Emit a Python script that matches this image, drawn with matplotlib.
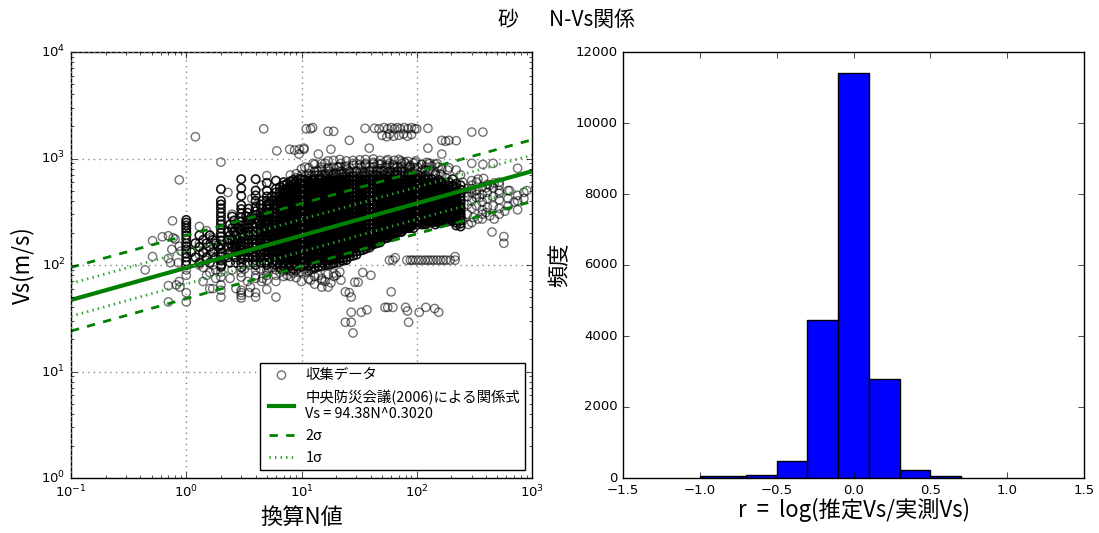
import matplotlib
matplotlib.use('Agg')
import matplotlib.pyplot as plt

plt.style.use('classic')
plt.rcParams['font.family'] = ['DejaVu Sans']
plt.rcParams['mathtext.fontset'] = 'dejavusans'
plt.rcParams['mathtext.default'] = 'regular'
plt.rcParams['figure.facecolor'] = 'white'
plt.rcParams['savefig.facecolor'] = 'white'
CJK = 'Noto Sans CJK JP'

# sparse outliers
out_n = [1.2,4.7,6.1,7.9,8.7,9.6,10.5,11,2.0,0.87,0.76,0.51,0.62,0.7,0.77,0.51,0.44,0.7,0.73,0.85,0.75,0.87,0.9,0.8,
         0.7,0.7,0.82,0.88,0.87,12,12.5,17,19,35.6,43,47,52,56,60,64,68,72,78,84,90,96,100,125,
         50,55,58,63,70,77,83,90,300,375,165,178,190,220,26,125,38.7,18,14,165,10.5,9.5,
         300,375,460,750,750,850,750,750,620,620,620,520,520,700,850,450,570,570,
         58,62,82,88,92,98,104,110,118,125,132,140,150,160,170,180,195,215,65,215,
         40,34,29,31,60,24,26,27,27,33,37,53,56,62,80,83,120,105,143,155,85,24,27,28,
         12,13,14,15,16,17,19,11,12,15,18,22,20,
         14,17,21,25,30,36,42,48,55,62,70,78,88,98,110,122,135,150,165,185,
         13,20,28,35,44,52,66,74,84,94,106,118,130,145,160,
         1.3,1.4,1.5,1.5,1.6,1.7,1.7,1.8,1.9,1.3,1.4,1.6,1.8,1.3,1.5,1.7,1.9,1.4,1.6,1.8,1.3,1.5,1.7,
         2.5,2.5,2.6,2.4,2.7,2.3,2.8,2.5,2.6,3.5,3.5,3.6,3.4,3.7,4.5,4.4,4.6,4.5,5.5,5.5,4.5,3.5,
         250,270,300,330,350,250,280,310,340,370,400,430,470,520,580,400,430,470,520,250,300,340,380,640,900,
         275,275,275,275,300,300,300,300,300,330,330,330,330,370,370,370,370,370,410,410,410,410,460,460,460,520,520,520]
out_vs = [1600,1900,1180,1220,1200,1220,1220,1900,925,630,260,169,184,188,180,120,90,115,105,105,140,150,135,175,
          45,64,65,62,70,1900,1950,1800,1800,1920,1920,1900,1950,1900,1950,1900,1950,1900,1950,1900,1950,1900,1900,1920,
          1650,1600,1700,1620,1650,1700,1620,1680,1770,1770,1480,1450,1480,1470,1480,1250,1250,1220,1100,1100,1250,1100,
          900,880,900,810,450,480,400,330,500,420,360,560,470,390,420,204,185,160,
          111,111,111,111,111,111,111,111,111,111,111,111,111,111,111,111,111,111,117,120,
          80,85,69,69,56,56,55,50,36,36,38,40,40,40,40,37,40,36,39,36,29,29,29,23,
          72,66,80,62,70,62,78,85,90,75,68,72,80,
          760,800,830,780,900,850,920,800,950,880,980,930,860,950,880,920,850,900,800,780,
          700,720,690,730,700,760,730,770,720,750,700,780,760,700,720,
          160,130,210,110,85,180,120,75,150,100,70,60,90,230,140,100,130,95,190,170,125,80,60,
          300,210,120,75,60,480,170,90,140,250,100,62,70,420,560,190,75,110,130,95,70,55,
          500,480,520,460,430,260,240,280,270,300,310,290,270,300,320,530,560,590,600,600,620,640,650,500,500,
          520,440,370,300,560,480,400,340,250,600,500,430,360,540,460,390,330,270,570,480,420,350,530,440,360,500,410,340]

# discrete columns of blow-count values and the velocities seen in each
col_n = [1.0,2.0,3.0,4.0,5.0,6.0,6.5,7.0,7.5,8.0,8.5,9.0,9.5,10,10.7,11.5,12.3,13,14,15,16,17,18,19,20,21.5,23,
         24.5,26,28,30,32,34,36,39,42,45,48,52,56,60,64,68,73,78,84,90,96,103,110,118,126,135,145,155,165,178,190,205,220,240]
col_vs = [
 [265,250,235,220,205,190,175,160,150,140,128,118,108,100,90,80,55,45],
 [516,400,370,340,310,285,260,240,220,200,185,170,155,142,130,120,110,100,96,86,77,65,58,50],
 [640,525,445,365,335,305,280,255,235,215,198,180,165,150,138,125,115,105,95,85,77,58,52,49,55],
 [640,500,450,400,350,320,295,270,245,225,205,190,172,158,145,132,120,110,100,90,80,75,55,50],
 [690,590,500,440,400,365,335,305,280,255,235,215,195,178,162,148,135,122,110,100,90,80,72,59],
 [620,520,480,440,400,365,335,305,280,255,235,215,195,178,162,148,135,122,110,100,90,80,70,50],
 [540,490,445,405,370,335,310,280,258,235,215,197,180,165,150,137,125,113,103,95,85],
 [600,560,510,465,425,385,350,320,295,270,245,225,205,187,170,156,142,130,118,108,98,88,78],
 [580,530,480,440,400,365,335,305,280,255,235,215,195,178,162,148,135,122,110,100,90,80],
 [700,610,555,505,460,420,385,350,320,292,268,245,223,203,186,170,155,142,130,118,108,98,88,78],
 [630,575,525,480,435,398,365,332,305,278,253,232,212,193,176,161,147,134,122,112,102,92,84],
 [720,660,600,545,500,455,415,380,347,318,290,265,243,222,202,185,169,154,141,129,118,107,98,88,76],
 [640,585,535,488,445,405,370,338,310,282,258,235,215,196,180,164,150,137,125,114,104,94,85],
 [800,700,640,590,540,490,445,405,372,340,310,283,260,238,216,198,181,165,151,138,126,115,105,96,86,70],
 [680,620,565,515,470,430,395,360,328,300,274,250,229,209,191,174,159,146,133,122,111,101,92],
 [820,720,650,600,545,500,455,415,380,348,318,290,265,242,222,203,185,169,155,141,129,118,107,98,88,74],
 [690,630,575,525,478,438,400,365,333,305,278,255,233,213,195,178,162,149,136,124,113,103,94],
 [880,760,690,630,575,525,480,440,400,365,335,305,280,255,233,213,195,178,163,149,136,124,113,103,95,78],
 [700,640,585,535,490,445,408,372,340,312,285,260,238,217,198,181,166,152,139,127,116,106,97],
 [900,790,700,640,590,540,490,450,410,375,343,314,287,262,240,219,200,183,167,153,140,128,117,107,97,72],
 [720,650,600,550,500,458,418,382,350,320,292,267,244,223,204,186,170,155,142,130,119,109,100],
 [950,820,710,650,600,550,500,460,420,385,352,322,295,270,246,225,206,188,172,157,144,132,121,110,100,82],
 [730,665,610,555,510,465,425,390,355,325,298,272,249,228,208,190,174,159,145,133,122,112,102],
 [960,830,720,660,605,555,505,465,425,390,355,325,298,272,250,228,208,191,175,160,146,134,123,112,104,84],
 [740,670,615,560,515,470,430,395,360,330,302,276,253,231,211,193,177,162,148,135,124,114,105],
 [980,840,725,665,610,560,510,468,428,392,358,328,300,275,252,230,211,193,177,162,148,136,125,115,107,86],
 [745,675,620,565,518,472,432,397,362,332,304,278,255,233,213,195,179,164,150,137,126,116,110],
 [950,850,730,670,612,562,512,470,430,395,360,330,303,277,254,232,213,195,179,164,150,138,127,118,111],
 [750,680,622,568,520,475,435,398,365,335,306,280,257,235,215,197,181,166,152,140,129,120],
 [960,860,735,672,615,565,515,472,432,396,362,332,305,279,256,234,215,197,181,166,153,142,132,122],
 [755,685,625,570,522,478,438,400,368,338,308,283,259,237,217,199,183,168,155,144,134,125],
 [970,870,740,675,618,568,518,475,435,398,365,335,307,281,258,236,217,199,183,169,156,146,136],
 [760,690,628,573,525,480,440,403,370,340,311,285,261,239,219,201,185,171,158,148,138],
 [980,880,745,678,620,570,520,478,438,400,367,337,309,283,260,238,219,201,186,173,160,150,142],
 [765,695,630,575,528,483,443,406,372,342,314,288,264,242,222,204,188,175,163,153,146],
 [990,890,750,680,622,572,522,480,440,403,370,340,312,286,262,240,221,204,189,177,166,156],
 [770,700,632,578,530,486,446,408,375,345,316,290,267,245,225,207,192,180,170,160],
 [960,880,745,682,625,575,525,483,443,406,373,343,315,289,265,243,224,208,194,183,172,163],
 [770,700,634,580,532,488,448,410,378,348,320,294,270,248,228,212,198,187,176],
 [980,860,745,683,628,578,528,486,446,410,376,346,318,292,268,247,229,214,201,190,180],
 [770,700,635,582,534,490,450,413,380,350,322,296,272,251,232,217,204,194,185],
 [960,850,745,685,630,580,530,488,448,412,379,349,321,295,272,251,233,219,207,197],
 [760,695,636,584,536,492,452,415,382,352,324,298,275,254,236,222,210,200],
 [950,840,740,680,630,580,530,490,450,414,381,351,323,298,275,255,238,225,214,205],
 [750,690,635,584,538,494,454,417,384,354,326,300,278,258,241,228,218],
 [940,830,735,675,625,578,530,490,452,416,384,354,326,302,280,260,243,231,222],
 [740,680,630,582,536,494,456,420,388,358,330,306,284,264,248,235],
 [920,820,720,665,615,570,526,488,452,418,386,357,330,306,284,265,250,240],
 [700,650,600,556,515,478,443,410,380,352,327,304,284,267,254,244],
 [880,780,680,625,580,538,500,464,430,398,370,344,320,298,280,264,252],
 [690,635,585,543,504,468,435,404,376,350,326,304,285,268,256,246],
 [900,760,640,590,548,510,474,440,410,382,356,332,310,290,272,258],
 [640,595,550,512,476,443,412,384,358,334,312,293,276,262,250],
 [880,720,600,558,520,484,450,420,392,366,342,320,300,282,268,255,240],
 [630,580,538,500,466,434,404,378,353,330,309,290,274,262,250],
 [700,600,555,515,480,447,417,390,364,340,318,298,282,268,256],
 [660,575,530,494,460,430,402,375,350,328,308,290,276,262],
 [820,600,545,505,470,438,410,384,358,335,315,298,283,270,258],
 [640,560,520,482,450,420,392,366,342,322,304,290,275,260],
 [780,580,530,490,456,426,398,372,348,328,310,295,280,265,250,235],
 [700,560,510,470,435,405,378,352,330,310,295,280,262,245,230],
]

# horizontal runs inside the dark band: each velocity with the N values at which rings sit
row_vs = [92,105,118,132,148,160,172,190,205,222,240,262,285,310,338,370,402,440,480,525,575,630,690,760,830,900]
row_n = [
 [3.2,4.4,5.2,6.6,7.2,8.4,9.1,12,13],
 [1.3,1.6,2.4,2.7,3.4,3.8,4.4,4.8,5.2,5.6,6.1,6.6,7.2,7.8,8.4,9.1,9.9,10.7,11.6,12.6,13.6,14.8,16],
 [1.2,1.5,1.8,2.3,2.7,3.2,3.5,3.8,4.4,4.8,5.2,5.6,6.1,6.6,7.2,7.8,8.4,9.1,9.9,10.7,11.6,12.6,13.6,14.8,16,17.4,18.8],
 [1.1,1.4,1.7,2.4,2.7,2.9,3.2,3.5,3.8,4.4,4.8,5.2,5.6,6.1,6.6,7.2,7.8,8.4,9.1,9.9,10.7,11.6,12.6,13.6,14.8,16,17.4,18.8,20.4,22,24,26],
 [1.3,1.6,1.9,2.3,2.5,2.7,3.2,3.5,3.8,4.4,4.8,5.2,5.6,6.1,6.6,7.2,7.8,8.4,9.1,9.9,10.7,11.6,12.6,13.6,14.8,16,17.4,18.8,20.4,22,24,26,28,30,33],
 [1.2,1.5,1.8,2.4,2.6,2.8,3.2,3.5,3.8,4.4,4.8,5.2,5.6,6.1,6.6,7.2,7.8,8.4,9.1,9.9,10.7,11.6,12.6,13.6,14.8,16,17.4,18.8,20.4,22,24,26,28,30,33,36,39,42],
 [1.4,1.7,2.3,2.5,2.7,3.2,3.4,3.7,4.4,4.8,5.2,5.6,6.1,6.6,7.2,7.8,8.4,9.1,9.9,10.7,11.6,12.6,13.6,14.8,16,17.4,18.8,20.4,22,24,26,28,30,33,36,39,42,46],
 [1.3,1.6,2.4,2.7,3.2,3.5,3.8,4.4,4.8,5.2,5.6,6.1,6.6,7.2,7.8,8.4,9.1,9.9,10.7,11.6,12.6,13.6,14.8,16,17.4,18.8,20.4,22,24,26,28,30,33,36,39,42,46,50,54,58],
 [2.3,2.6,3.3,3.6,4.4,4.8,5.2,5.6,6.1,6.6,7.2,7.8,8.4,9.1,9.9,10.7,11.6,12.6,13.6,14.8,16,17.4,18.8,20.4,22,24,26,28,30,33,36,39,42,46,50,54,58,63,68,74],
 [2.5,2.8,3.2,3.5,4.4,4.8,5.2,5.6,6.1,6.6,7.2,7.8,8.4,9.1,9.9,10.7,11.6,12.6,13.6,14.8,16,17.4,18.8,20.4,22,24,26,28,30,33,36,39,42,46,50,54,58,63,68,74,80,87,94],
 [2.4,2.7,3.3,3.7,4.4,4.8,5.2,5.6,6.1,6.6,7.2,7.8,8.4,9.1,9.9,10.7,11.6,12.6,13.6,14.8,16,17.4,18.8,20.4,22,24,26,28,30,33,36,39,42,46,50,54,58,63,68,74,80,87,94,102,111,120],
 [2.6,3.4,3.6,4.3,4.8,5.2,5.6,6.1,6.6,7.2,7.8,8.4,9.1,9.9,10.7,11.6,12.6,13.6,14.8,16,17.4,18.8,20.4,22,24,26,28,30,33,36,39,42,46,50,54,58,63,68,74,80,87,94,102,111,120,130,141,153,166],
 [2.5,3.3,3.7,4.4,4.7,5.3,5.7,6.1,6.6,7.2,7.8,8.4,9.1,9.9,10.7,11.6,12.6,13.6,14.8,16,17.4,18.8,20.4,22,24,26,28,30,33,36,39,42,46,50,54,58,63,68,74,80,87,94,102,111,120,130,141,153,166,180,195,211],
 [3.4,4.4,4.8,5.2,5.7,6.1,6.6,7.2,7.8,8.4,9.1,9.9,10.7,11.6,12.6,13.6,14.8,16,17.4,18.8,20.4,22,24,26,28,30,33,36,39,42,46,50,54,58,63,68,74,80,87,94,102,111,120,130,141,153,166,180,195,211,229],
 [3.5,4.5,5.3,5.7,6.1,6.6,7.2,7.8,8.4,9.1,9.9,10.7,11.6,12.6,13.6,14.8,16,17.4,18.8,20.4,22,24,26,28,30,33,36,39,42,46,50,54,58,63,68,74,80,87,94,102,111,120,130,141,153,166,180,195,211,229],
 [4.4,5.3,6.1,6.6,7.2,7.8,8.4,9.1,9.9,10.7,11.6,12.6,13.6,14.8,16,17.4,18.8,20.4,22,24,26,28,30,33,36,39,42,46,50,54,58,63,68,74,80,87,94,102,111,120,130,141,153,166,180,195,211,229],
 [4.6,5.5,6.6,7.2,7.8,8.4,9.1,9.9,10.7,11.6,12.6,13.6,14.8,16,17.4,18.8,20.4,22,24,26,28,30,33,36,39,42,46,50,54,58,63,68,74,80,87,94,102,111,120,130,141,153,166,180,195,211],
 [5.5,7.2,7.8,8.4,9.1,9.9,10.7,11.6,12.6,13.6,14.8,16,17.4,18.8,20.4,22,24,26,28,30,33,36,39,42,46,50,54,58,63,68,74,80,87,94,102,111,120,130,141,153,166,180,195,211],
 [7.2,8.4,9.1,9.9,10.7,11.6,12.6,13.6,14.8,16,17.4,18.8,20.4,22,24,26,28,30,33,36,39,42,46,50,54,58,63,68,74,80,87,94,102,111,120,130,141,153,166,180,195],
 [9.1,9.9,11.6,12.6,13.6,14.8,16,17.4,18.8,20.4,22,24,26,28,30,33,36,39,42,46,50,54,58,63,68,74,80,87,94,102,111,120,130,141,153,166],
 [9.9,11.6,13.6,14.8,16,17.4,18.8,20.4,22,24,26,28,30,33,36,39,42,46,50,54,58,63,68,74,80,87,94,102,111,120,130,141,166],
 [10.7,12.6,14.8,17.4,20.4,22,24,26,28,30,33,36,39,42,46,50,54,58,63,68,74,80,87,94,102,111,120],
 [11.6,16,18.8,24,28,33,36,42,46,54,58,63,74,80,94,102,120],
 [13.6,17.4,22,26,30,39,46,50,58,68,74,87,111,141],
 [10.7,14.8,20.4,24,33,39,42,54,63,68,87,102,120,153],
 [12.6,16,22,28,36,46,50,58,74,80,94,130],
]

# velocity limits of the near-solid part of the cloud
solid_lo = 95
solid_hi = 640

# fitted relation and its scatter bands, endpoints
line_n = [0.1, 1000]
line_vs = [47, 760]
plus2_vs = [95, 1500]
minus2_vs = [24, 395]
plus1_vs = [67, 1075]
minus1_vs = [33, 540]

# residual histogram
bin_left = [-1.0, -0.7, -0.5, -0.3, -0.1, 0.1, 0.3, 0.5]
bin_right = [-0.7, -0.5, -0.3, -0.1, 0.1, 0.3, 0.5, 0.7]
bin_count = [50, 90, 480, 4450, 11400, 2780, 230, 60]

fig = plt.figure(figsize=(10.99, 5.33), dpi=100)
W, H = 1099, 533
ax1 = fig.add_axes([71/W, 1-478/H, 461/W, 426/H])
ax2 = fig.add_axes([623/W, 1-478/H, 461/W, 426/H])

all_x = []
all_y = []
for n, vals in zip(col_n, col_vs):
    all_x += [n] * len(vals)
    all_y += vals
for v, ns in zip(row_vs, row_n):
    all_x += ns
    all_y += [v] * len(ns)

dense_x = [x for x, y in zip(all_x, all_y) if solid_lo <= y <= solid_hi]
dense_y = [y for y in all_y if solid_lo <= y <= solid_hi]
light_x = list(out_n) + [x for x, y in zip(all_x, all_y) if not solid_lo <= y <= solid_hi]
light_y = list(out_vs) + [y for y in all_y if not solid_lo <= y <= solid_hi]

ax1.scatter(dense_x, dense_y, s=36, facecolors='none', edgecolors='black', linewidths=1.2, alpha=0.9)
ax1.scatter(light_x, light_y, s=36, facecolors='none', edgecolors='black', linewidths=1.0, alpha=0.55, label='収集データ')
ax1.plot(line_n, line_vs, color='#008000', lw=3, label='中央防災会議(2006)による関係式\nVs = 94.38N^0.3020')
ax1.plot(line_n, plus2_vs, color='#008000', lw=2, ls='--', label='2σ')
ax1.plot(line_n, minus2_vs, color='#008000', lw=2, ls='--')
ax1.plot(line_n, plus1_vs, color='#2ca02c', lw=2, ls=':', label='1σ')
ax1.plot(line_n, minus1_vs, color='#2ca02c', lw=2, ls=':')
ax1.set_xscale('log')
ax1.set_yscale('log')
ax1.set_xlim(0.1, 1000)
ax1.set_ylim(1, 10000)
ax1.grid(True, color='#888888', ls=':', lw=1)
ax1.set_xlabel('換算N値', fontsize=16, family=CJK, labelpad=4)
ax1.set_ylabel('Vs(m/s)', fontsize=16, family=CJK, labelpad=5)
ax1.tick_params(labelsize=9.5)
ax1.legend(loc='lower right', bbox_to_anchor=(0.985, 0.018), borderaxespad=0, scatterpoints=1,
           prop={'size': 10.4, 'family': [CJK, 'DejaVu Sans']}, fancybox=False, framealpha=1,
           labelspacing=0.55, handlelength=2.3, handletextpad=0.5, borderpad=0.35)

ax2.bar(bin_left, bin_count, width=[r-l for l, r in zip(bin_left, bin_right)], align='edge',
        color='#0000ff', edgecolor='black', linewidth=1)
ax2.set_xlim(-1.5, 1.5)
ax2.set_ylim(0, 12000)
ax2.set_xlabel('r  =  log(推定Vs/実測Vs)', fontsize=16, family=CJK, labelpad=1)
ax2.set_ylabel('頻度', fontsize=16, family=CJK, labelpad=3)
ax2.tick_params(labelsize=9.5)

fig.text(566/W, 1-20/H, '砂\u3000  N-Vs関係', ha='center', va='center', fontsize=15, family=CJK)
fig.savefig('out.png', dpi=100)
